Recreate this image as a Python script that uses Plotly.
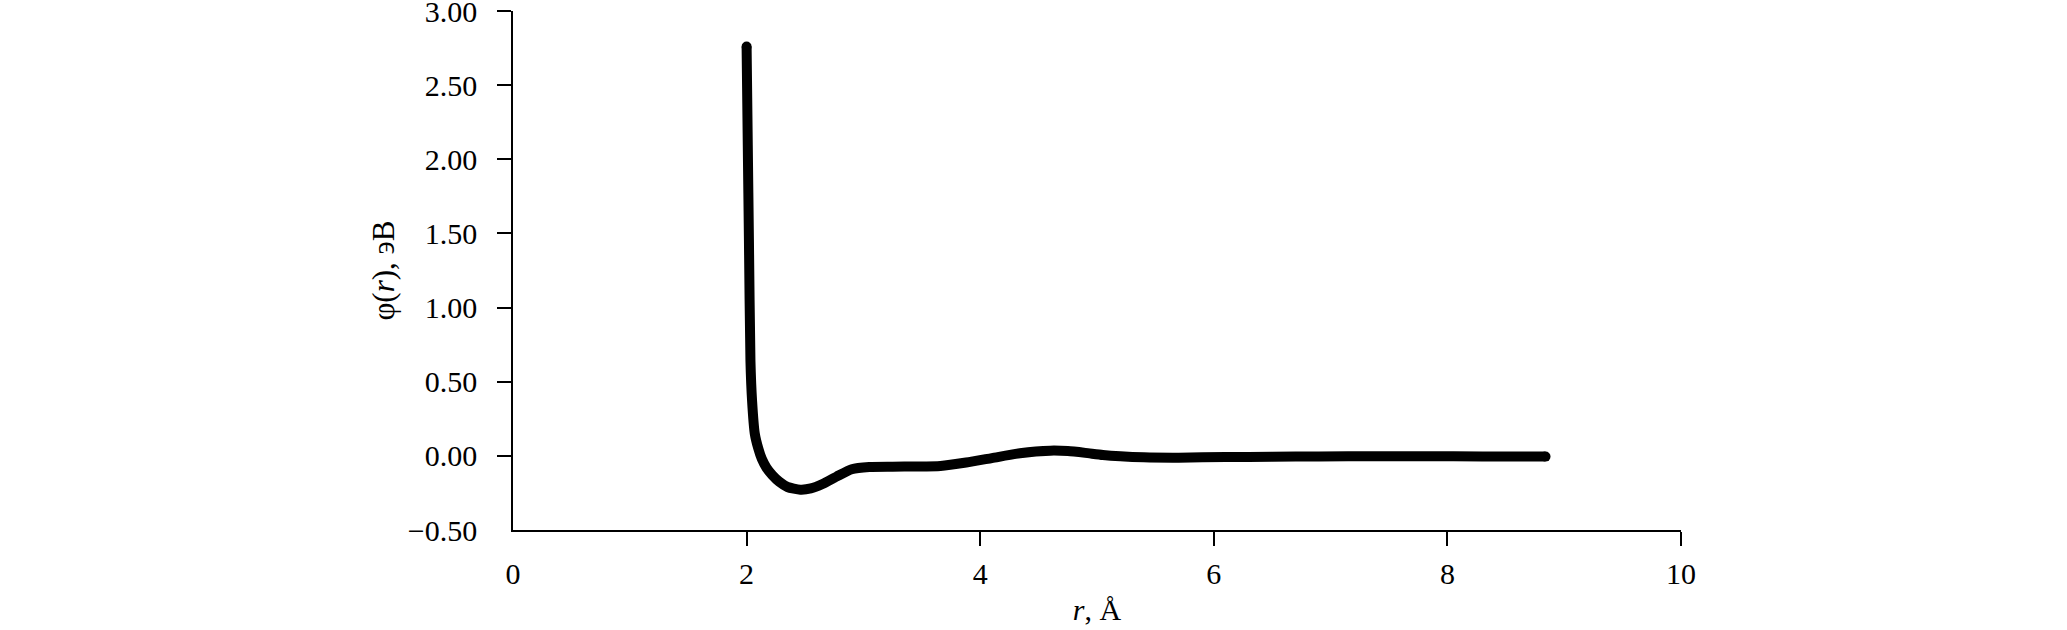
import plotly.graph_objects as go

# pair potential phi(r)
r_vals = [2.00, 2.01, 2.02, 2.033, 2.047, 2.07, 2.10, 2.13, 2.17, 2.22, 2.28, 2.35,
          2.46, 2.55, 2.65, 2.77, 2.90, 3.05, 3.25, 3.45, 3.66, 3.88, 4.10, 4.34,
          4.60, 4.75, 4.90, 5.05, 5.20, 5.40, 5.70, 6.10, 6.50, 6.90, 7.40, 7.80,
          8.30, 8.84]
phi_vals = [2.76, 2.10, 1.45, 0.64, 0.37, 0.15, 0.05, -0.02, -0.08, -0.13, -0.175, -0.21,
            -0.228, -0.22, -0.19, -0.14, -0.09, -0.075, -0.073, -0.072, -0.068, -0.045, -0.015, 0.018,
            0.035, 0.032, 0.02, 0.006, -0.003, -0.01, -0.012, -0.008, -0.006, -0.004, -0.003, -0.002,
            -0.004, -0.005]

x_labels = [0, 2, 4, 6, 8, 10]
y_labels = [-0.5, 0, 0.5, 1.0, 1.5, 2.0, 2.5, 3.0]

FONT = "Liberation Serif"
FSIZE = 30

# round caps at both ends of the curve
cap_sizes = [10] + [0] * (len(r_vals) - 2) + [10]

fig = go.Figure()
fig.add_trace(go.Scatter(
    x=r_vals, y=phi_vals, mode="lines+markers",
    line=dict(color="black", width=10, shape="spline", smoothing=0.6),
    marker=dict(color="black", size=cap_sizes, opacity=1, line=dict(width=0)),
    showlegend=False,
))

fig.update_xaxes(
    range=[0, 10], tickvals=x_labels, ticks="",
    minor=dict(tickvals=x_labels[1:], ticks="outside", ticklen=14, tickwidth=1.5, tickcolor="black"),
    showline=True, linecolor="black", linewidth=1.5,
    showgrid=False, zeroline=False,
    ticklabelstandoff=16, ticklabeloverflow="allow",
    tickfont=dict(family=FONT, size=FSIZE, color="black"),
    title=dict(text="<i>r</i>, Å", font=dict(family=FONT, size=FSIZE, color="black"), standoff=10),
)
fig.update_yaxes(
    range=[-0.5, 3.0], tickvals=y_labels, tickformat=".2f", ticks="",
    minor=dict(tickvals=y_labels[1:], ticks="outside", ticklen=14, tickwidth=1.5, tickcolor="black"),
    showline=True, linecolor="black", linewidth=1.5,
    showgrid=False, zeroline=False,
    ticklabelstandoff=28, ticklabeloverflow="allow",
    tickfont=dict(family=FONT, size=FSIZE, color="black"),
    title=dict(text="φ(<i>r</i>), эВ", font=dict(family=FONT, size=31, color="black"), standoff=4),
)

fig.update_layout(
    width=2067, height=630,
    margin=dict(l=513, r=386, t=11, b=100, autoexpand=False),
    paper_bgcolor="white", plot_bgcolor="white",
)

# drop the default 8px page margin so the figure sits at the window's corner
fig.write_html("out.html", config={"displayModeBar": False},
               post_script="document.body.style.margin='0';")
